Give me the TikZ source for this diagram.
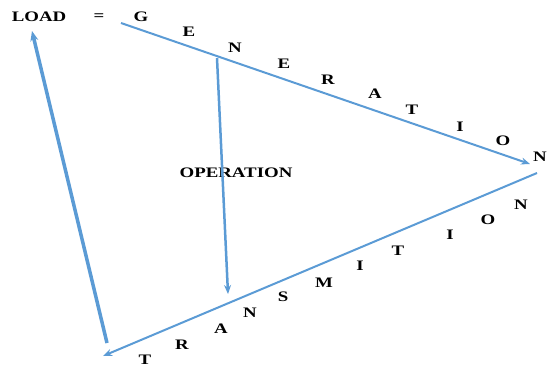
\documentclass[tikz,border=0pt]{standalone}
\usepackage{fontspec}
\setmainfont{Liberation Serif}
\newfontfamily\labelfont[FakeStretch=1.3]{Liberation Serif}
\usetikzlibrary{arrows.meta}

\definecolor{flowblue}{HTML}{5B9BD5}

\begin{document}
\begin{tikzpicture}[
        x=1pt, y=-1pt,
        >=Stealth,
        letter/.style={
            inner sep=0pt,
            font=\labelfont\bfseries\fontsize{14.5}{16}\selectfont
        },
        flow/.style={draw=flowblue, line width=2pt, -{Stealth[length=9pt,width=7pt]}},
        heavy/.style={draw=flowblue, line width=3.5pt, -{Stealth[length=10pt,width=8pt]}}
    ]
        \useasboundingbox (0,0) rectangle (548,368);

        % word labels
        \node[letter] (load) at (39,17) {LOAD};
        \node[letter] (equals) at (99,17) {=};
        \node[letter] (operation) at (236,173) {OPERATION};

        % GENERATION
        \node[letter] (g1) at (141,17) {G};
        \node[letter] (g2) at (189,32) {E};
        \node[letter] (g3) at (235,48) {N};
        \node[letter] (g4) at (284,64) {E};
        \node[letter] (g5) at (328,80) {R};
        \node[letter] (g6) at (375,94) {A};
        \node[letter] (g7) at (412,110) {T};
        \node[letter] (g8) at (460,127) {I};
        \node[letter] (g9) at (503,141) {O};
        \node[letter] (g10) at (540,157) {N};

        % TRANSMITION
        \node[letter] (t1) at (145,360) {T};
        \node[letter] (t2) at (182,345) {R};
        \node[letter] (t3) at (221,329) {A};
        \node[letter] (t4) at (250,313) {N};
        \node[letter] (t5) at (283,297) {S};
        \node[letter] (t6) at (324,283) {M};
        \node[letter] (t7) at (360,266) {I};
        \node[letter] (t8) at (398,251) {T};
        \node[letter] (t9) at (450,235) {I};
        \node[letter] (t10) at (488,220) {O};
        \node[letter] (t11) at (521,205) {N};

        \coordinate (genstart) at (121,23);
        \coordinate (genend) at (530,164);
        \coordinate (transstart) at (537,173);
        \coordinate (transend) at (103,356);
        \coordinate (opstart) at (217,58);
        \coordinate (opend) at (228,294);
        \coordinate (loadstart) at (107,343);
        \coordinate (loadend) at (32,31);

        \draw[flow] (genstart) -- (genend);
        \draw[flow] (transstart) -- (transend);
        \draw[flow, line width=2.5pt] (opstart) -- (opend);
        \draw[heavy] (loadstart) -- (loadend);
    \end{tikzpicture}
\end{document}
